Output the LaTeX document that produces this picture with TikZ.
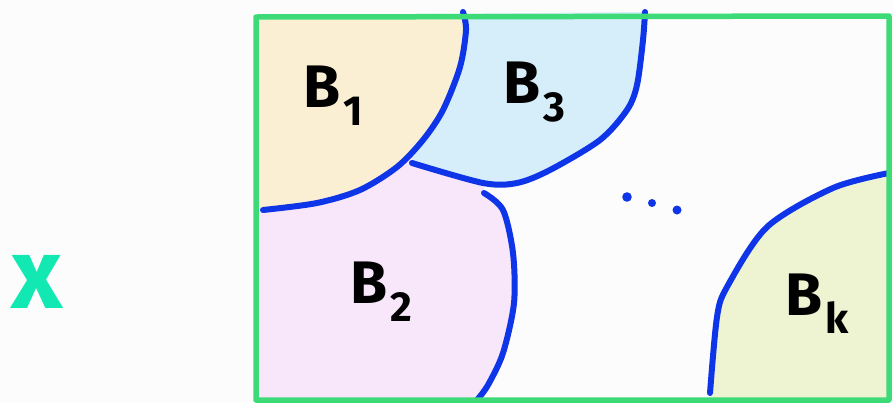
\documentclass[tikz,border=0pt]{standalone}
\usepackage{fontspec}
\setmainfont{Fira Sans}
\definecolor{frameg}{HTML}{3DDB78}
\definecolor{bblue}{HTML}{0F35E8}
\definecolor{xcol}{HTML}{12E8B2}
\definecolor{fillone}{HTML}{FBEFD3}
\definecolor{filltwo}{HTML}{F8E6FA}
\definecolor{fillthree}{HTML}{D5EEFA}
\definecolor{fillk}{HTML}{EEF3D1}
\newcommand{\setlabel}[2]{\fontsize{60}{60}\selectfont B\hspace{3pt}\raisebox{-18pt}{\fontsize{42}{42}\selectfont #2}}
\begin{document}
\begin{tikzpicture}[x=1pt,y=-1pt,line cap=round,line join=round,
  border/.style={draw=bblue,line width=6pt},
  frameline/.style={draw=frameg,line width=5.5pt},
  setname/.style={anchor=base west,inner sep=0pt,text=black,font=\bfseries}]
\useasboundingbox (0,0) rectangle (894,402);
\fill[white!99!black] (0,0) rectangle (894,402);
% fills
\fill[filltwo] (256,205) -- (405,150) -- (470,180) -- (484,186) -- plot[smooth] coordinates {(484,193) (503,210) (513,253) (514,303) (503,353) (488,385) (477,400)} -- (256,400) -- cycle;
\fill[fillthree] (430,14) -- (646,12) -- plot[smooth] coordinates {(646,12) (643,40) (637,85) (627,110) (600,140) (550,170) (517,183) (483,183) (412,163)} -- cycle;
\fill[fillone] (256,16) -- (464,14) -- plot[smooth] coordinates {(464,14) (466,30) (460,67) (443,110) (423,140) (397,167) (360,190) (317,203) (263,210)} -- (256,210) -- cycle;
\fill[fillk] plot[smooth] coordinates {(889,173) (833,188) (767,227) (727,287) (717,317) (710,393)} -- (710,400) -- (889,400) -- cycle;
% boundaries
\draw[border] plot[smooth] coordinates {(463,12) (466,30) (460,67) (443,110) (423,140) (397,167) (360,190) (317,203) (263,210)};
\draw[border] plot[smooth] coordinates {(645,12) (643,40) (637,85) (627,110) (600,140) (550,170) (517,183) (483,183) (412,163)};
\draw[border] plot[smooth] coordinates {(484,193) (503,210) (513,253) (514,303) (503,353) (488,385) (477,400)};
\draw[border] plot[smooth] coordinates {(889,173) (833,188) (767,227) (727,287) (717,317) (710,393)};
% frame
\draw[frameline] (256,17) -- (889,16) -- (889,400) -- (256,400) -- cycle;
% dots
\fill[bblue] (627,197) circle (4.8) (652,203) circle (4) (677,210) circle (4.5);
% labels
\node[setname] (b1) at (303,107) {\setlabel{B}{1}};
\node[setname] (b3) at (503,103) {\setlabel{B}{3}};
\node[setname] (b2) at (350,303) {\setlabel{B}{2}};
\node[setname] (bk) at (785,315) {\setlabel{B}{k}};
\node[text=xcol,inner sep=0pt,font=\bfseries\fontsize{100}{100}\selectfont] (x) at (37,282) {x};
\end{tikzpicture}
\end{document}
